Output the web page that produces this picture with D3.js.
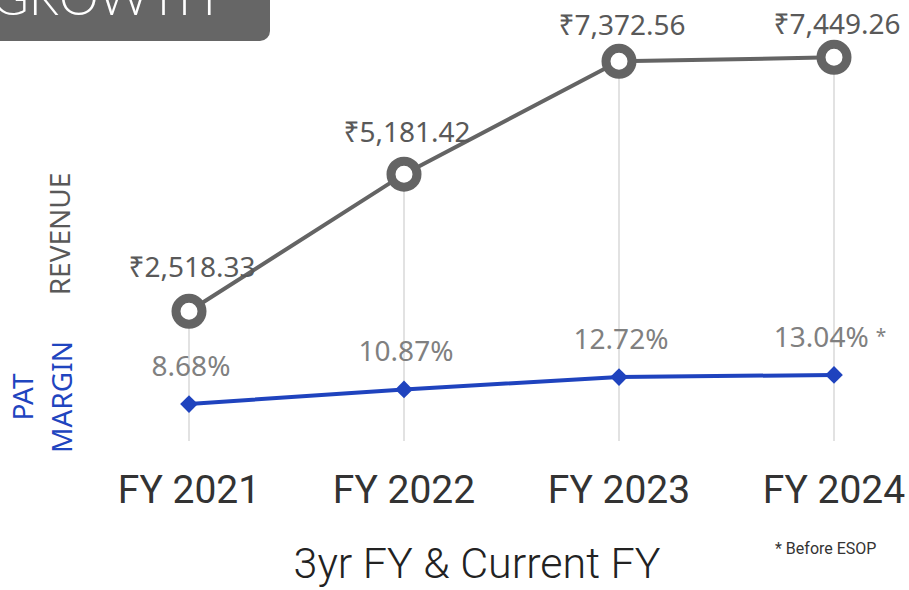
<!DOCTYPE html>
<html>
<head>
<meta charset="utf-8">
<script src="https://cdn.jsdelivr.net/npm/d3@7"></script>
<style>
  body { margin: 0; background: #fff; }
  svg { display: block; }
</style>
</head>
<body>
<div id="chart"></div>
<script>
// data
const years = ['FY 2021', 'FY 2022', 'FY 2023', 'FY 2024'];
const revenue = [2518.33, 5181.42, 7372.56, 7449.26];
const patMargin = [8.68, 10.87, 12.72, 13.04];
const patNote = ['', '', '', '*'];

const width = 909, height = 590;
// label lift above each revenue point (manual placement in source)
const revLabelDy = [34, 32, 26, 23];

const svg = d3.select('#chart').append('svg')
    .attr('width', width)
    .attr('height', height);

const x = d3.scalePoint().domain(years).range([189, 834]);
const yRev = d3.scaleLinear().domain([0, 8000]).range([441, 29]);
const yPat = d3.scaleLinear().domain([0, 14]).range([462, 368.5]);

// title tab, cut off at the top
svg.append('rect')
    .attr('x', -20).attr('y', -40)
    .attr('width', 290).attr('height', 81)
    .attr('rx', 10)
    .attr('fill', '#666666');
svg.append('text')
    .attr('x', -8).attr('y', 15)
    .attr('fill', '#fff')
    .style('font-family', 'Lato, "Noto Sans", sans-serif')
    .style('font-weight', 300)
    .style('font-size', '50px')
    .text('GROWTH');

// drop lines
svg.append('g').selectAll('line')
    .data(years)
    .join('line')
    .attr('x1', d => x(d)).attr('x2', d => x(d))
    .attr('y1', (d, i) => yRev(revenue[i]))
    .attr('y2', yRev(0))
    .attr('stroke', '#d9d9d9')
    .attr('stroke-width', 1.5);

// revenue line
const revLine = d3.line()
    .x((d, i) => x(years[i]))
    .y(d => yRev(d));
svg.append('path')
    .datum(revenue)
    .attr('d', revLine)
    .attr('fill', 'none')
    .attr('stroke', '#646464')
    .attr('stroke-width', 4);

svg.append('g').selectAll('circle')
    .data(revenue)
    .join('circle')
    .attr('cx', (d, i) => x(years[i]))
    .attr('cy', d => yRev(d))
    .attr('r', 13)
    .attr('fill', '#fff')
    .attr('stroke', '#646464')
    .attr('stroke-width', 9);

svg.append('g').selectAll('text')
    .data(revenue)
    .join('text')
    .attr('x', (d, i) => x(years[i]) + 3)
    .attr('y', (d, i) => yRev(d) - revLabelDy[i])
    .attr('text-anchor', 'middle')
    .attr('fill', '#595959')
    .style('font-family', '"Noto Sans", sans-serif')
    .style('font-size', '28px')
    .text(d => '₹' + d3.format(',.2f')(d));

// PAT margin line
const patLine = d3.line()
    .x((d, i) => x(years[i]))
    .y(d => yPat(d));
svg.append('path')
    .datum(patMargin)
    .attr('d', patLine)
    .attr('fill', 'none')
    .attr('stroke', '#1f43be')
    .attr('stroke-width', 4);

svg.append('g').selectAll('path.dia')
    .data(patMargin)
    .join('path')
    .attr('class', 'dia')
    .attr('transform', (d, i) => `translate(${x(years[i])},${yPat(d)})`)
    .attr('d', d3.symbol(d3.symbolDiamond2, 200))
    .attr('fill', '#1f43be');

const patText = svg.append('g').selectAll('text')
    .data(patMargin)
    .join('text')
    .attr('x', (d, i) => x(years[i]) + (patNote[i] ? -4 : 2))
    .attr('y', d => yPat(d) - 28)
    .attr('text-anchor', 'middle')
    .attr('fill', '#808080')
    .style('font-family', '"Noto Sans", sans-serif')
    .style('font-size', '28px');
patText.append('tspan').text(d => d.toFixed(2) + '%');
patText.append('tspan')
    .style('font-size', '19px')
    .attr('dx', 7)
    .attr('dy', -4)
    .text((d, i) => patNote[i]);

// x axis labels
svg.append('g').selectAll('text')
    .data(years)
    .join('text')
    .attr('x', d => x(d))
    .attr('y', 503)
    .attr('text-anchor', 'middle')
    .attr('fill', '#333')
    .style('font-family', 'Roboto, sans-serif')
    .style('font-size', '39px')
    .text(d => d);

svg.append('text')
    .attr('x', 477).attr('y', 578)
    .attr('text-anchor', 'middle')
    .attr('fill', '#222')
    .style('font-family', 'Roboto, sans-serif')
    .style('font-weight', 300)
    .style('font-size', '43px')
    .text('3yr FY & Current FY');

svg.append('text')
    .attr('x', 775).attr('y', 554)
    .attr('fill', '#333')
    .style('font-family', 'Roboto, sans-serif')
    .style('font-size', '16px')
    .text('* Before ESOP');

// rotated series titles
svg.append('text')
    .attr('transform', 'translate(70,234) rotate(-90)')
    .attr('text-anchor', 'middle')
    .attr('fill', '#595959')
    .style('font-family', '"Noto Sans", sans-serif')
    .style('font-size', '28px')
    .text('REVENUE');

const pat = svg.append('text')
    .attr('transform', 'translate(0,397) rotate(-90)')
    .attr('text-anchor', 'middle')
    .attr('fill', '#1f45bf')
    .style('font-family', '"Noto Sans", sans-serif')
    .style('font-size', '28px');
pat.append('tspan').attr('x', 0).attr('y', 33).text('PAT');
pat.append('tspan').attr('x', 0).attr('y', 72).text('MARGIN');
</script>
</body>
</html>
